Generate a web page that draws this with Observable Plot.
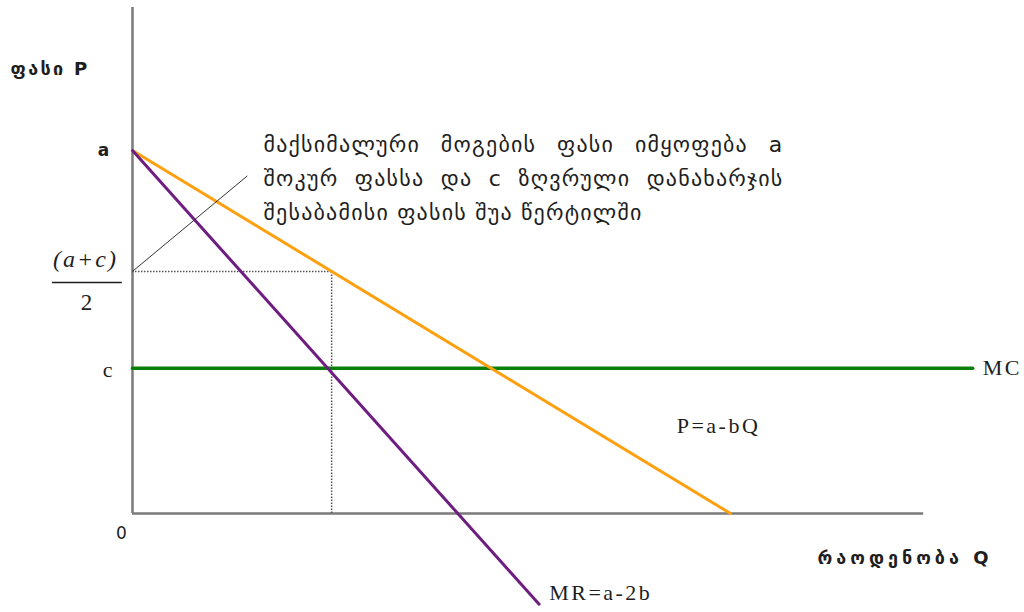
<!DOCTYPE html>
<html>
<head>
<meta charset="utf-8">
<script src="https://cdn.jsdelivr.net/npm/d3@7"></script>
<script src="https://cdn.jsdelivr.net/npm/@observablehq/plot@0.6"></script>
<style>
  html, body { margin: 0; padding: 0; background: #fff; }
  #chart svg { display: block; }
</style>
</head>
<body>
<div id="chart"></div>
<script>
// Monopoly pricing: demand P = a - bQ, marginal revenue MR = a - 2bQ, constant MC = c.
// Units: a = 10, c = 4, demand meets the Q axis at Q = 10.
const demand = [{Q: 0, P: 10}, {Q: 10, P: 0}];
const marginalRevenue = [{Q: 0, P: 10}, {Q: 6.8, P: -2.5}];
const marginalCost = [{Q: 0, P: 4}, {Q: 14.05, P: 4}];
const optimum = {Q: 3.33, P: 6.67};          // MR = MC quantity and its price (a+c)/2
const axisEnds = {Q: 13.23, P: 13.94};
const leaderEnd = {Q: 1.92, P: 9.3};

const priceTicks = [{label: "a", P: 10}];
const costTick = [{label: "c", P: 4}];
const priceTitle = "ფასი P";
const quantityTitle = "რაოდენობა Q";
const annotationLines = [
  "მაქსიმალური მოგების ფასი იმყოფება a",
  "შოკურ ფასსა და c ზღვრული დანახარჯის",
  "შესაბამისი ფასის შუა წერტილში"
];
const mcLabel = {text: "MC", Q: 14.05, P: 4};
const demandLabel = {text: "P=a-bQ", Q: 9.1, P: 2.42};
const mrLabel = {text: "MR=a-2b", Q: 6.8, P: -2.5};

const serif = "'Liberation Serif', 'Times New Roman', serif";
const sans = "'DejaVu Sans', 'Noto Sans', sans-serif";
const axisColor = "#7a7a7a";
const ink = "#1e1e1e";

const chart = Plot.plot({
  width: 1024,
  height: 612,
  marginTop: 0, marginRight: 0, marginBottom: 0, marginLeft: 0,
  x: {domain: [0, 10], range: [132, 730], axis: null},
  y: {domain: [0, 10], range: [513, 150], axis: null},
  marks: [
    // axes
    Plot.ruleX([0], {y1: 0, y2: axisEnds.P, stroke: axisColor, strokeWidth: 2.5}),
    Plot.ruleY([0], {x1: 0, x2: axisEnds.Q, stroke: axisColor, strokeWidth: 2.5}),
    // dotted guides to the optimum
    Plot.ruleY([optimum], {y: "P", x1: 0, x2: "Q", stroke: "#555", strokeWidth: 1.5, strokeDasharray: "1.5,1.5"}),
    Plot.ruleX([optimum], {x: "Q", y1: 0, y2: "P", stroke: "#555", strokeWidth: 1.5, strokeDasharray: "1.5,1.5"}),
    // curves
    Plot.line(marginalCost, {x: "Q", y: "P", stroke: "#0a800a", strokeWidth: 3.5}),
    Plot.line(demand, {x: "Q", y: "P", stroke: "#ffa010", strokeWidth: 3}),
    Plot.line(marginalRevenue, {x: "Q", y: "P", stroke: "#6e1e80", strokeWidth: 3}),
    // leader from the (a+c)/2 level to the note
    Plot.link([{x1: 0, y1: optimum.P, x2: leaderEnd.Q, y2: leaderEnd.P}], {
      x1: "x1", y1: "y1", x2: "x2", y2: "y2", stroke: "#333", strokeWidth: 1
    }),
    // price axis labels
    Plot.text(priceTicks, {x: 0, y: "P", text: "label", dx: -29, fontFamily: sans, fontSize: 17, fontWeight: "bold", fill: ink}),
    Plot.text(costTick, {x: 0, y: "P", text: "label", dx: -25, dy: 2, fontFamily: serif, fontSize: 22, fill: ink}),
    Plot.text(["0"], {x: 0, y: 0, text: d => d, dx: -11, dy: 20, fontFamily: sans, fontSize: 17, fill: ink}),
    // (a+c)/2 fraction
    Plot.text(["(a+c)"], {x: 0, y: optimum.P, text: d => d, dx: -47, dy: -12, fontFamily: serif, fontStyle: "italic", fontSize: 24, fill: ink}),
    Plot.ruleY([optimum.P], {x1: -1.34, x2: -0.17, dy: 11, stroke: ink, strokeWidth: 1.5}),
    Plot.text(["2"], {x: 0, y: optimum.P, text: d => d, dx: -46, dy: 31, fontFamily: serif, fontSize: 23, fill: ink}),
    // curve labels
    Plot.text([mcLabel], {x: "Q", y: "P", text: "text", dx: 10, textAnchor: "start", fontFamily: serif, fontSize: 22, fill: ink}),
    Plot.text([demandLabel], {x: "Q", y: "P", text: "text", textAnchor: "start", fontFamily: serif, fontSize: 22, fill: ink}),
    Plot.text([mrLabel], {x: "Q", y: "P", text: "text", dx: 10, dy: -11, textAnchor: "start", fontFamily: serif, fontSize: 22, fill: ink}),
    // axis titles
    Plot.text([priceTitle], {frameAnchor: "top-left", text: d => d, dx: 10, dy: 62, textAnchor: "start", fontFamily: sans, fontWeight: "bold", fontSize: 18, fill: ink}),
    Plot.text([quantityTitle], {frameAnchor: "bottom-right", text: d => d, dx: -32, dy: -49, textAnchor: "end", fontFamily: sans, fontWeight: "bold", fontSize: 18, fill: ink}),
    // note
    Plot.text([annotationLines.join("\n")], {
      frameAnchor: "top-left", text: d => d, dx: 263, dy: 128, textAnchor: "start", lineAnchor: "top",
      lineHeight: 1.53, fontFamily: sans, fontSize: 22, fill: ink
    })
  ]
});

document.getElementById("chart").appendChild(chart);

// Wide-set lettering: spacing (px) per label text.
const spacing = new Map([
  [mcLabel.text, 2.5], [demandLabel.text, 2.5], [mrLabel.text, 2.5],
  ["(a+c)", 2], [priceTitle, 2.3], [quantityTitle, 4]
]);
const svg = d3.select(chart);
svg.selectAll("text").each(function() {
  const s = spacing.get(this.textContent);
  if (s != null) this.setAttribute("letter-spacing", s);
});

// Note: letter spacing on every line, first two lines justified to a common width
// by pushing each word after the first right with dx.
const noteWidth = 520;
const noteSpacing = 1.2;
svg.selectAll("tspan").each(function() {
  const idx = annotationLines.indexOf(this.textContent);
  if (idx < 0) return;
  this.setAttribute("letter-spacing", noteSpacing);
  if (idx === annotationLines.length - 1) return;
  const words = this.textContent.split(" ");
  const w = this.getComputedTextLength();
  const extra = Math.max(0, (noteWidth - w) / (words.length - 1));
  this.textContent = "";
  words.forEach((word, k) => {
    const t = document.createElementNS("http://www.w3.org/2000/svg", "tspan");
    t.textContent = (k ? " " : "") + word;
    if (k) t.setAttribute("dx", extra);
    this.appendChild(t);
  });
});
</script>
</body>
</html>
